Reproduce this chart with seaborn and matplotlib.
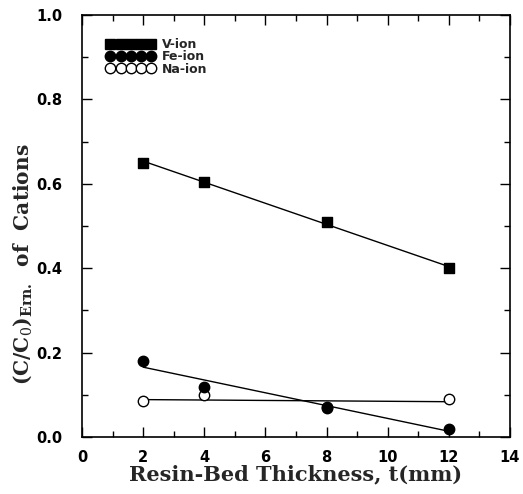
import numpy as np
import pandas as pd
import matplotlib
matplotlib.use("Agg")
import matplotlib.pyplot as plt
from matplotlib.lines import Line2D
from matplotlib.ticker import MultipleLocator, FormatStrFormatter
import seaborn as sns

# data
thickness = [2, 4, 8, 12]
v_ion = [0.65, 0.605, 0.51, 0.40]
fe_ion = [0.18, 0.12, 0.07, 0.02]
na_ion = [0.085, 0.10, 0.072, 0.09]
ion_names = ["V-ion", "Fe-ion", "Na-ion"]

sns.set_style("ticks")
plt.rcParams["font.family"] = ["DejaVu Sans"]
plt.rcParams["mathtext.fontset"] = "dejavuserif"

fig = plt.figure(figsize=(5.23, 4.94), dpi=100)
ax = fig.add_axes([0.157, 0.115, 0.818, 0.855])

# Na first so the filled Fe marker sits on top at t=8
series = [
    (na_ion, "o", "white", 7.5),
    (v_ion, "s", "black", 6.5),
    (fe_ion, "o", "black", 7.5),
]

for vals, mk, fc, ms in series:
    # fitted straight line through the points
    sns.regplot(x=thickness, y=vals, ax=ax, scatter=False, ci=None,
                truncate=True, color="black", line_kws={"lw": 1.0})
    sns.scatterplot(x=thickness, y=vals, ax=ax, marker=mk, s=ms ** 2,
                    color=fc, edgecolor="black", linewidth=1.0, zorder=3)

ax.set_xlim(0, 14)
ax.set_ylim(0, 1.0)
ax.xaxis.set_major_locator(MultipleLocator(2))
ax.xaxis.set_minor_locator(MultipleLocator(1))
ax.yaxis.set_major_locator(MultipleLocator(0.2))
ax.yaxis.set_minor_locator(MultipleLocator(0.1))
ax.yaxis.set_major_formatter(FormatStrFormatter("%.1f"))
ax.tick_params(which="both", direction="in", top=True, right=True,
               labelsize=10.5, width=1.0, colors="black")
ax.tick_params(which="major", length=7)
ax.tick_params(which="minor", length=4)
ax.tick_params(axis="y", pad=14)
ax.tick_params(axis="x", pad=9)
for lab in ax.get_xticklabels() + ax.get_yticklabels():
    lab.set_fontweight("bold")
for sp in ax.spines.values():
    sp.set_linewidth(1.2)
    sp.set_color("black")

ax.set_xlabel("Resin-Bed Thickness, t(mm)", family="DejaVu Serif",
              fontweight="bold", fontsize=15, labelpad=0)
ax.set_ylabel(r"(C/C$_0$)$_{\mathbf{Ern.}}$  of  Cations", family="DejaVu Serif",
              fontweight="bold", fontsize=14.5, labelpad=0)
ax.yaxis.set_label_coords(-0.112, 0.41)

handles = [
    Line2D([], [], marker="s", color="black", mfc="black", ls="none", ms=6.8),
    Line2D([], [], marker="o", color="black", mfc="black", ls="none", ms=7.5),
    Line2D([], [], marker="o", color="black", mfc="white", ls="none", ms=7.5),
]
leg = ax.legend(handles, ion_names, loc="upper left", bbox_to_anchor=(0.057, 0.945),
                numpoints=5, handlelength=3.9, handletextpad=0.5, labelspacing=-0.05,
                frameon=False, prop={"size": 9, "weight": "bold"}, borderaxespad=0,
                borderpad=0)

fig.savefig("out.png", dpi=100)
